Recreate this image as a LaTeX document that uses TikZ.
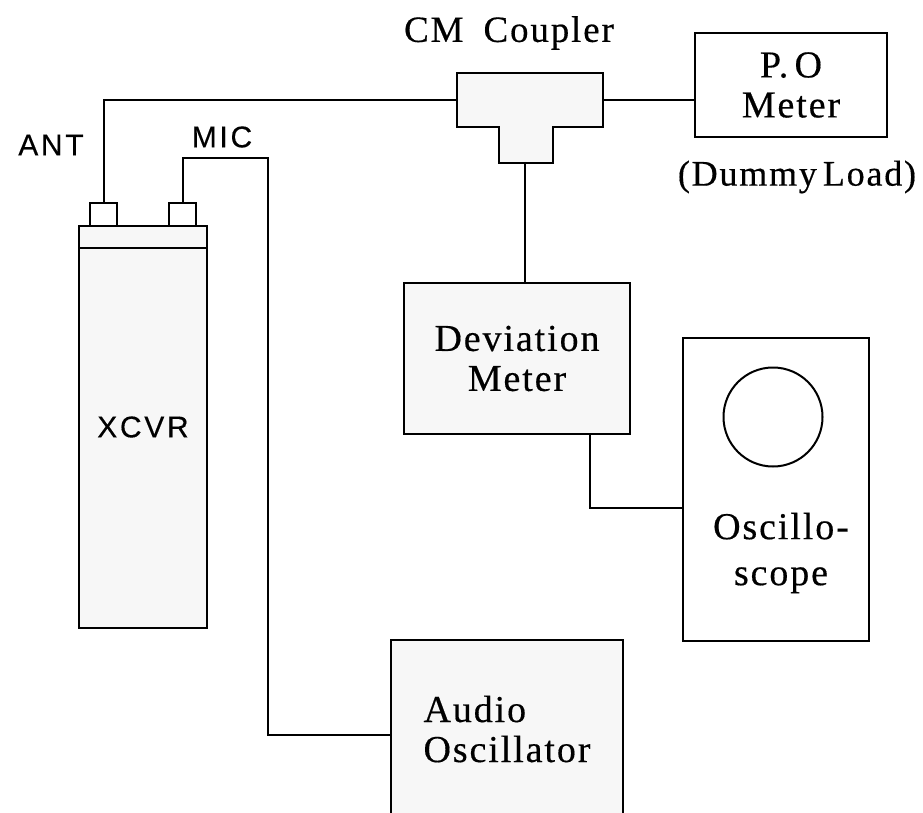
\documentclass[tikz,border=0pt]{standalone}
\usepackage{fontspec}
\setmainfont{Liberation Serif}[LetterSpace=5,FakeBold=0.4]
\newfontfamily\tagfont{Liberation Sans}[LetterSpace=9,FakeBold=0.3]
\usetikzlibrary{positioning,calc}

\begin{document}
\begin{tikzpicture}[x=1pt,y=-1pt,line width=2pt]
%style for instrument boxes
\tikzstyle{ibox} = [rectangle, draw=black, fill=gray!6, inner sep=0pt, align=center, font=\fontsize{38}{40}\selectfont]

%style for sockets on the transceiver
\tikzstyle{jack} = [rectangle, draw=black, fill=white, minimum width=27, minimum height=23, inner sep=0pt]

%style for plain labels
\tikzstyle{serif} = [inner sep=0pt, font=\fontsize{37}{40}\selectfont]
\tikzstyle{sans} = [inner sep=0pt, font=\tagfont\fontsize{30}{32}\selectfont]

\clip (0,0) rectangle (923,813);

%place nodes
\node[ibox, minimum width=128, minimum height=402, font=\tagfont\fontsize{30}{32}\selectfont] (xcvr) at (143,427) {XCVR};
\node[jack] (antjack) at (103.5,214.5) {};
\node[jack] (micjack) at (182.5,214.5) {};
\node[inner sep=0pt, minimum width=144, minimum height=52] (coupler) at (530,100) {};
\coordinate (couplerout) at (525,162);
\node[ibox, fill=white, minimum width=192, minimum height=104] (pometer) at (791,85) {P.\,O\\Meter};
\node[ibox, minimum width=226, minimum height=151] (devmeter) at (517,358.5) {Deviation\\Meter};
\node[ibox, fill=white, minimum width=186, minimum height=303] (scope) at (776,489.5) {};
\node[circle, draw=black, minimum size=99, inner sep=0pt] (tube) at (773,417) {};
\node[serif, align=center, font=\fontsize{38}{46}\selectfont] (scopetext) at (781,553) {Oscillo-\\scope};
\node[ibox, minimum width=232, minimum height=178, align=left] (audio) at (507,729) {Audio\\Oscillator};

%labels
\node[sans] (antlabel) at (51,145) {ANT};
\node[sans] (miclabel) at (222,137) {MIC};
\node[serif] (couplerlabel) at (509,33) {CM\hspace{20pt}Coupler};
\node[serif, font=\fontsize{36}{40}\selectfont] (dummylabel) at (797,177) {(Dummy\,Load)};

%coupler outline
\draw[fill=gray!6] (coupler.north west) -- (coupler.north east) -- (coupler.south east)
  -- ++(-50,0) -- ++(0,36) -- ++(-54,0) -- ++(0,-36) -- (coupler.south west) -- cycle;

%band across the top of the transceiver
\draw ($(xcvr.north west)+(0,23)$) -- ($(xcvr.north east)+(0,23)$);

%connect nodes with lines
\coordinate (micbend) at (268,158);
\draw (antjack.north) |- (coupler.west);
\draw (coupler.east) -- (coupler.east -| pometer.west);
\draw (couplerout) -- (couplerout |- devmeter.north);
\draw ($(devmeter.south east)+(-41,0)$) |- ($(scope.west)+(0,18)$);
\draw (micjack.north) |- (micbend) |- ($(audio.west)+(0,6)$);
\end{tikzpicture}
\end{document}
